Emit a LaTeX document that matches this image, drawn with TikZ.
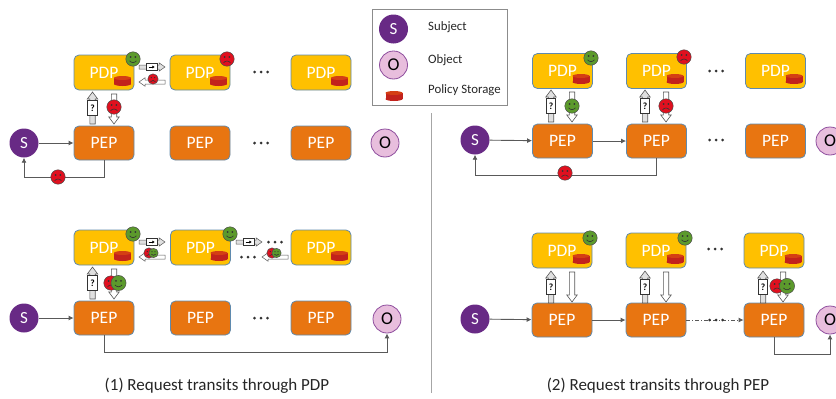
\documentclass[tikz,border=0pt]{standalone}
\usepackage{fontspec}
\setmainfont{Carlito}
\usetikzlibrary{arrows.meta}
\definecolor{pdpc}{HTML}{FFC000}
\definecolor{pepc}{HTML}{E87511}
\definecolor{edgec}{HTML}{5F8AAE}
\definecolor{subjc}{HTML}{682A85}
\definecolor{objc}{HTML}{E8BEDD}
\definecolor{objl}{HTML}{8E4E9E}
\definecolor{stor}{HTML}{C2221C}
\definecolor{gface}{HTML}{5C9A2C}
\definecolor{rface}{HTML}{E0101F}
\definecolor{linec}{HTML}{595959}
\tikzset{
 x=1pt,y=-1pt,
 pdpbox/.style={draw=edgec,line width=.8pt,rounded corners=5pt,fill=pdpc,minimum width=60pt,minimum height=35pt,inner sep=0pt,text=white,font=\fontsize{17.5}{17}\selectfont},
 pepbox/.style={draw=edgec,line width=.8pt,rounded corners=5pt,fill=pepc,minimum width=60pt,minimum height=34pt,inner sep=0pt,text=white,font=\fontsize{17.5}{17}\selectfont},
 subj/.style={circle,fill=subjc,minimum size=29pt,inner sep=0pt,text=white,font=\fontsize{17}{17}\selectfont},
 obj/.style={circle,draw=objl,line width=.8pt,fill=objc,minimum size=28pt,inner sep=0pt,font=\fontsize{18}{18}\selectfont},
 conn/.style={draw=linec,line width=.9pt,-{Latex[length=5pt,width=5pt]}},
 legtext/.style={anchor=west,inner sep=0pt,text=black!85,font=\fontsize{12.8}{13}\selectfont},
 captiontext/.style={inner sep=0pt,text=black!85,font=\fontsize{17}{18}\selectfont},
 dotsrow/.pic={\fill[black!80] (-6.5,0) circle (1.5) (0,0) circle (1.5) (6.5,0) circle (1.5);},
 storage/.pic={
  \fill[stor] (-8.5,-3) rectangle (8.5,3);
  \fill[stor] (0,3) ellipse[x radius=8.5,y radius=2];
  \fill[stor!70!orange] (0,-3) ellipse[x radius=8.5,y radius=2];},
 greenface/.pic={
  \fill[gface] (0,0) circle (7.2);
  \draw[black!70,line width=.5pt] (0,0) circle (7.2);
  \fill[black!80] (-2.4,-2) circle (.95) (2.4,-2) circle (.95);
  \draw[black!80,line width=.6pt] (-3.4,1.8) .. controls (-1.5,4.2) and (1.5,4.2) .. (3.4,1.8);},
 redface/.pic={
  \fill[rface] (0,0) circle (7.2);
  \draw[black!70,line width=.5pt] (0,0) circle (7.2);
  \fill[black!80] (-2.4,-2) circle (.95) (2.4,-2) circle (.95);
  \draw[black!80,line width=.6pt] (-3.4,3.8) .. controls (-1.5,1.4) and (1.5,1.4) .. (3.4,3.8);},
 uparrow/.pic={
  \draw[line width=.6pt,draw=black!65,fill=black!12] (-2.7,32) -- (-2.7,7) -- (-5.2,7) -- (0,0) -- (5.2,7) -- (2.7,7) -- (2.7,32) -- cycle;
  \node[draw=black!80,line width=.7pt,fill=white,minimum width=9.5pt,minimum height=15.5pt,inner sep=0pt,font=\bfseries\fontsize{9.5}{9}\selectfont] (-q) at (0,16) {?};},
 downarrow/.pic={
  \draw[line width=.6pt,draw=black!65,fill=white] (-2.7,0) -- (-2.7,23) -- (-5.2,23) -- (0,30) -- (5.2,23) -- (2.7,23) -- (2.7,0) -- cycle;},
 rarrow/.pic={
  \draw[line width=.5pt,draw=black!65,fill=black!12] (0,-2) -- (20,-2) -- (20,-4.2) -- (26,0) -- (20,4.2) -- (20,2) -- (0,2) -- cycle;
  \draw[line width=.6pt,draw=black!80,fill=white] (7,-3.4) rectangle (18.5,3.4);
  \draw[line width=1pt,-{Latex[length=2.5pt,width=3.2pt]}] (9.5,0) -- (15.8,0);},
 larrow/.pic={
  \draw[line width=.5pt,draw=black!65,fill=white] (26,-2) -- (6,-2) -- (6,-4.2) -- (0,0) -- (6,4.2) -- (6,2) -- (26,2) -- cycle;},
}
\begin{document}
\begin{tikzpicture}
\useasboundingbox (0,0) rectangle (836,399);
% legend
\node[draw=black!45,line width=.8pt,minimum width=135pt,minimum height=96pt,inner sep=0pt] (leg) at (439.5,57) {};
\node[subj] (legS) at (393.5,29) {S};
\node[obj] (legO) at (393.5,65) {O};
\pic at (394,96) {storage};
\node[legtext] (legt1) at (428,27) {Subject};
\node[legtext] (legt2) at (428,60) {Object};
\node[legtext] (legt3) at (428,90) {Policy Storage};
\coordinate (divtop) at (431,113);
\coordinate (divbot) at (431,393);
\draw[black!35,line width=.7pt] (divtop) -- (divbot);
% ---- top left
\node[pdpbox] (a1) at (104,72.5) {PDP};
\node[pdpbox] (a2) at (200,72.5) {PDP};
\node[pdpbox] (a3) at (321,72.5) {PDP};
\node[pepbox] (b1) at (104,143) {PEP};
\node[pepbox] (b2) at (200,143) {PEP};
\node[pepbox] (b3) at (321,143) {PEP};
\node[subj] (s1) at (24,143) {S};
\node[obj] (o1) at (385,143) {O};
\draw[conn] (s1) -- (b1);
\draw[conn] (b1.south) -- ++(0,17) -| (s1.south);
\pic at (122.5,81) {storage}; \pic at (218.5,81) {storage}; \pic at (339.5,81) {storage};
\pic at (133,59) {greenface}; \pic at (227,59) {redface};
\pic at (92.5,92) {uparrow};
\pic at (114,94) {downarrow};
\pic at (114,107) {redface};
\pic at (139,67) {rarrow};
\pic at (139,82) {larrow};
\pic[scale=.72] at (153,79) {redface};
\pic at (58,177) {redface};
\pic at (261,72) {dotsrow}; \pic at (261,143) {dotsrow};
% ---- bottom left
\node[pdpbox] (c1) at (104,247.5) {PDP};
\node[pdpbox] (c2) at (200.5,247.5) {PDP};
\node[pdpbox] (c3) at (321,247.5) {PDP};
\node[pepbox] (d1) at (104,318) {PEP};
\node[pepbox] (d2) at (200.5,318) {PEP};
\node[pepbox] (d3) at (321,318) {PEP};
\node[subj] (s2) at (24,318) {S};
\node[obj] (o2) at (387,319) {O};
\draw[conn] (s2) -- (d1);
\draw[conn] (d1.south) -- ++(0,17) -| (o2.south);
\pic at (122.5,256) {storage}; \pic at (219,256) {storage}; \pic at (339.5,256) {storage};
\pic at (133,234) {greenface}; \pic at (230,234) {greenface};
\pic at (92.5,267) {uparrow};
\pic at (114,269) {downarrow};
\pic at (111,283) {redface};
\pic[scale=1.05] at (118.5,283) {greenface};
\pic at (139,242) {rarrow};
\pic at (139,257) {larrow};
\pic[scale=.72] at (149,253) {redface};
\pic[scale=.65] at (153.5,253) {greenface};
\pic at (236,242) {rarrow};
\pic at (262,257) {larrow};
\pic[scale=.72] at (272,253) {redface};
\pic[scale=.65] at (276.5,253) {greenface};
\pic at (275,242) {dotsrow}; \pic at (248,257) {dotsrow};
\pic at (261,318) {dotsrow};
% ---- top right
\node[pdpbox] (e1) at (562.5,71) {PDP};
\node[pdpbox] (e2) at (656.5,71) {PDP};
\node[pdpbox] (e3) at (775.5,71) {PDP};
\node[pepbox] (f1) at (562.5,141) {PEP};
\node[pepbox] (f2) at (656.5,141) {PEP};
\node[pepbox] (f3) at (775.5,141) {PEP};
\node[subj] (s3) at (475,140) {S};
\node[obj] (o3) at (830,141) {O};
\draw[conn] (s3) -- (f1);
\draw[conn] (f1) -- (f2);
\draw[conn] (f2.south) -- ++(0,17) -| (s3.south);
\pic at (581,79) {storage}; \pic at (675,79) {storage}; \pic at (794,79) {storage};
\pic at (591,58) {greenface}; \pic at (684,57) {redface};
\pic at (551,90) {uparrow};
\pic at (572,92) {downarrow};
\pic at (572,106) {greenface};
\pic at (645,90) {uparrow};
\pic at (666,92) {downarrow};
\pic at (666,106) {redface};
\pic at (565,173) {redface};
\pic at (716,71) {dotsrow}; \pic at (716,140) {dotsrow};
% ---- bottom right
\node[pdpbox] (g1) at (562,250.5) {PDP};
\node[pdpbox] (g2) at (656,250.5) {PDP};
\node[pdpbox] (g3) at (774,250.5) {PDP};
\node[pepbox] (h1) at (562,320) {PEP};
\node[pepbox] (h2) at (656,320) {PEP};
\node[pepbox] (h3) at (774,320) {PEP};
\node[subj] (s4) at (475,319) {S};
\node[obj] (o4) at (830,320) {O};
\draw[conn] (s4) -- (h1);
\draw[conn] (h1) -- (h2);
\draw[conn,dash pattern=on 4pt off 2pt on 1pt off 2pt] (h2) -- (h3);
\draw[conn] (h3.south) -- ++(0,17) -| (o4.south);
\pic at (581,259) {storage}; \pic at (675,259) {storage}; \pic at (793,259) {storage};
\pic at (590,238) {greenface}; \pic at (685,238) {greenface};
\pic at (551,271) {uparrow}; \pic at (572,272) {downarrow};
\pic at (645,271) {uparrow}; \pic at (666,272) {downarrow};
\pic at (763,271) {uparrow}; \pic at (783,272) {downarrow};
\pic at (777,286) {redface};
\pic[scale=1.05] at (787,286) {greenface};
\pic at (715,249) {dotsrow}; \pic at (716,320) {dotsrow};
% captions
\node[captiontext] (cap1) at (217,386) {(1) Request transits through PDP};
\node[captiontext] (cap2) at (658,386) {(2) Request transits through PEP};
\end{tikzpicture}
\end{document}
